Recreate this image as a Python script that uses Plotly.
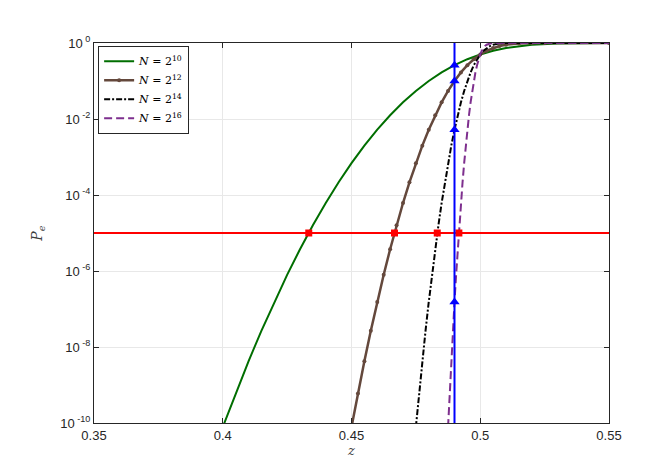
import plotly.graph_objects as go

# P_e versus z for four block lengths
z_n10 = [0.400, 0.405, 0.410, 0.415, 0.420, 0.425, 0.430, 0.435, 0.440, 0.445,
         0.450, 0.455, 0.460, 0.465, 0.470, 0.475, 0.480, 0.485, 0.490, 0.495,
         0.500, 0.505, 0.510, 0.515, 0.520, 0.530, 0.540, 0.550]
pe_n10 = [7.8e-11, 6.0e-10, 4.2e-9, 2.67e-8, 1.53e-7, 7.93e-7, 3.73e-6, 1.59e-5, 6.15e-5, 2.16e-4,
          6.87e-4, 1.99e-3, 5.23e-3, 0.01255, 0.02743, 0.0548, 0.1003, 0.1685, 0.2611, 0.3745,
          0.5, 0.6255, 0.7389, 0.8315, 0.8997, 0.9726, 0.9948, 0.9993]

z_n12 = [0.4500, 0.4525, 0.4550, 0.4575, 0.4600, 0.4625, 0.4650, 0.4675, 0.4700, 0.4725,
         0.4750, 0.4775, 0.4800, 0.4825, 0.4850, 0.4875, 0.4900, 0.4925, 0.4950, 0.4975,
         0.5000, 0.5025, 0.5050, 0.5075, 0.5100, 0.5150, 0.5200, 0.5250, 0.5500]
pe_n12 = [7.8e-11, 6.0e-10, 4.2e-9, 2.67e-8, 1.53e-7, 7.93e-7, 3.73e-6, 1.59e-5, 6.15e-5, 2.16e-4,
          6.87e-4, 1.99e-3, 5.23e-3, 0.01255, 0.02743, 0.0548, 0.1003, 0.1685, 0.2611, 0.3745,
          0.5, 0.6255, 0.7389, 0.8315, 0.8997, 0.9726, 0.9948, 0.9993, 1.0]

z_n14 = [0.47500, 0.47625, 0.47750, 0.47875, 0.48000, 0.48125, 0.48250, 0.48375, 0.48500, 0.48625,
         0.48750, 0.48875, 0.49000, 0.49125, 0.49250, 0.49375, 0.49500, 0.49625, 0.49750, 0.49875,
         0.50000, 0.50125, 0.50250, 0.50375, 0.50500, 0.50750, 0.51000, 0.51250, 0.55000]
pe_n14 = [7.8e-11, 6.0e-10, 4.2e-9, 2.67e-8, 1.53e-7, 7.93e-7, 3.73e-6, 1.59e-5, 6.15e-5, 2.16e-4,
          6.87e-4, 1.99e-3, 5.23e-3, 0.01255, 0.02743, 0.0548, 0.1003, 0.1685, 0.2611, 0.3745,
          0.5, 0.6255, 0.7389, 0.8315, 0.8997, 0.9726, 0.9948, 0.9993, 1.0]

z_n16 = [0.487500, 0.488125, 0.488750, 0.489375, 0.490000, 0.490625, 0.491250, 0.491875, 0.492500, 0.493125,
         0.493750, 0.494375, 0.495000, 0.495625, 0.496250, 0.496875, 0.497500, 0.498125, 0.498750, 0.499375,
         0.500000, 0.500625, 0.501250, 0.501875, 0.502500, 0.503750, 0.505000, 0.506250, 0.550000]
pe_n16 = [7.8e-11, 6.0e-10, 4.2e-9, 2.67e-8, 1.53e-7, 7.93e-7, 3.73e-6, 1.59e-5, 6.15e-5, 2.16e-4,
          6.87e-4, 1.99e-3, 5.23e-3, 0.01255, 0.02743, 0.0548, 0.1003, 0.1685, 0.2611, 0.3745,
          0.5, 0.6255, 0.7389, 0.8315, 0.8997, 0.9726, 0.9948, 0.9993, 1.0]

# target error level and its crossings
target_pe = 1e-5
target_line_z = [0.35, 0.55]
target_cross_z = [0.4334, 0.4667, 0.4833, 0.4917]

# fixed threshold z and values of the curves there
z_fixed = 0.49
fixed_line_pe = [1e-10, 1.0]
fixed_cross_pe = [0.2611, 0.1003, 5.23e-3, 1.53e-7]

x_ticks = [0.35, 0.4, 0.45, 0.5, 0.55]
x_ticktext = ["0.35", "0.4", "0.45", "0.5", "0.55"]
y_ticks = [1e-10, 1e-8, 1e-6, 1e-4, 1e-2, 1]
y_ticktext = ["10<sup> -10</sup>", "10<sup> -8</sup>", "10<sup> -6</sup>",
              "10<sup> -4</sup>", "10<sup> -2</sup>", "10<sup> 0</sup>"]

fig = go.Figure()

fig.add_trace(go.Scatter(x=z_n10, y=pe_n10, mode="lines",
                         line=dict(color="rgb(0,110,0)", width=2),
                         name="<i>N</i> = 2<sup>10</sup>"))
fig.add_trace(go.Scatter(x=z_n12, y=pe_n12, mode="lines+markers",
                         line=dict(color="rgb(100,72,60)", width=2.5),
                         marker=dict(size=4, color="rgb(100,72,60)"),
                         name="<i>N</i> = 2<sup>12</sup>"))
fig.add_trace(go.Scatter(x=z_n14, y=pe_n14, mode="lines",
                         line=dict(color="black", width=2, dash="6px,2px,2px,2px"),
                         name="<i>N</i> = 2<sup>14</sup>"))
fig.add_trace(go.Scatter(x=z_n16, y=pe_n16, mode="lines",
                         line=dict(color="rgb(126,47,142)", width=2, dash="8px,4px"),
                         name="<i>N</i> = 2<sup>16</sup>"))

# horizontal target line with square markers
fig.add_trace(go.Scatter(x=target_line_z, y=[target_pe] * len(target_line_z), mode="lines",
                         line=dict(color="rgb(255,0,0)", width=2), showlegend=False))
fig.add_trace(go.Scatter(x=target_cross_z, y=[target_pe] * len(target_cross_z), mode="markers",
                         marker=dict(symbol="square", size=7, color="rgb(255,0,0)"),
                         showlegend=False))

# vertical line at fixed z with triangle markers
fig.add_trace(go.Scatter(x=[z_fixed] * len(fixed_line_pe), y=fixed_line_pe, mode="lines",
                         line=dict(color="rgb(0,0,255)", width=2), showlegend=False))
fig.add_trace(go.Scatter(x=[z_fixed] * len(fixed_cross_pe), y=fixed_cross_pe, mode="markers",
                         marker=dict(symbol="triangle-up", size=9, color="rgb(0,0,255)"),
                         showlegend=False))

axis_common = dict(showline=True, linecolor="rgb(38,38,38)", linewidth=1, mirror="ticks",
                   ticks="inside", ticklen=5, tickcolor="rgb(38,38,38)",
                   showgrid=True, gridcolor="rgb(232,232,232)", gridwidth=1,
                   zeroline=False, tickfont=dict(family="Liberation Sans, Arial", size=13,
                                                 color="rgb(38,38,38)"))

fig.update_layout(
    width=664, height=467,
    margin=dict(l=86, r=63, t=35, b=52),
    paper_bgcolor="white", plot_bgcolor="white",
    xaxis=dict(range=[0.35, 0.55], tickvals=x_ticks, ticktext=x_ticktext,
               title=dict(text="<i>z</i>", standoff=1,
                          font=dict(family="DejaVu Serif, serif", size=13, color="rgb(60,60,60)")),
               **axis_common),
    yaxis=dict(type="log", range=[-10, 0], tickvals=y_ticks, ticktext=y_ticktext,
               title=dict(text="<i>P<sub>e</sub></i>", standoff=14,
                          font=dict(family="DejaVu Serif, serif", size=14, color="rgb(60,60,60)")),
               **axis_common),
    legend=dict(x=0.008, y=0.993, xanchor="left", yanchor="top",
                bgcolor="white", bordercolor="rgb(38,38,38)", borderwidth=1,
                font=dict(family="DejaVu Serif, serif", size=11, color="black"),
                tracegroupgap=0, itemwidth=30),
    showlegend=True,
)

fig.write_html("out.html")
